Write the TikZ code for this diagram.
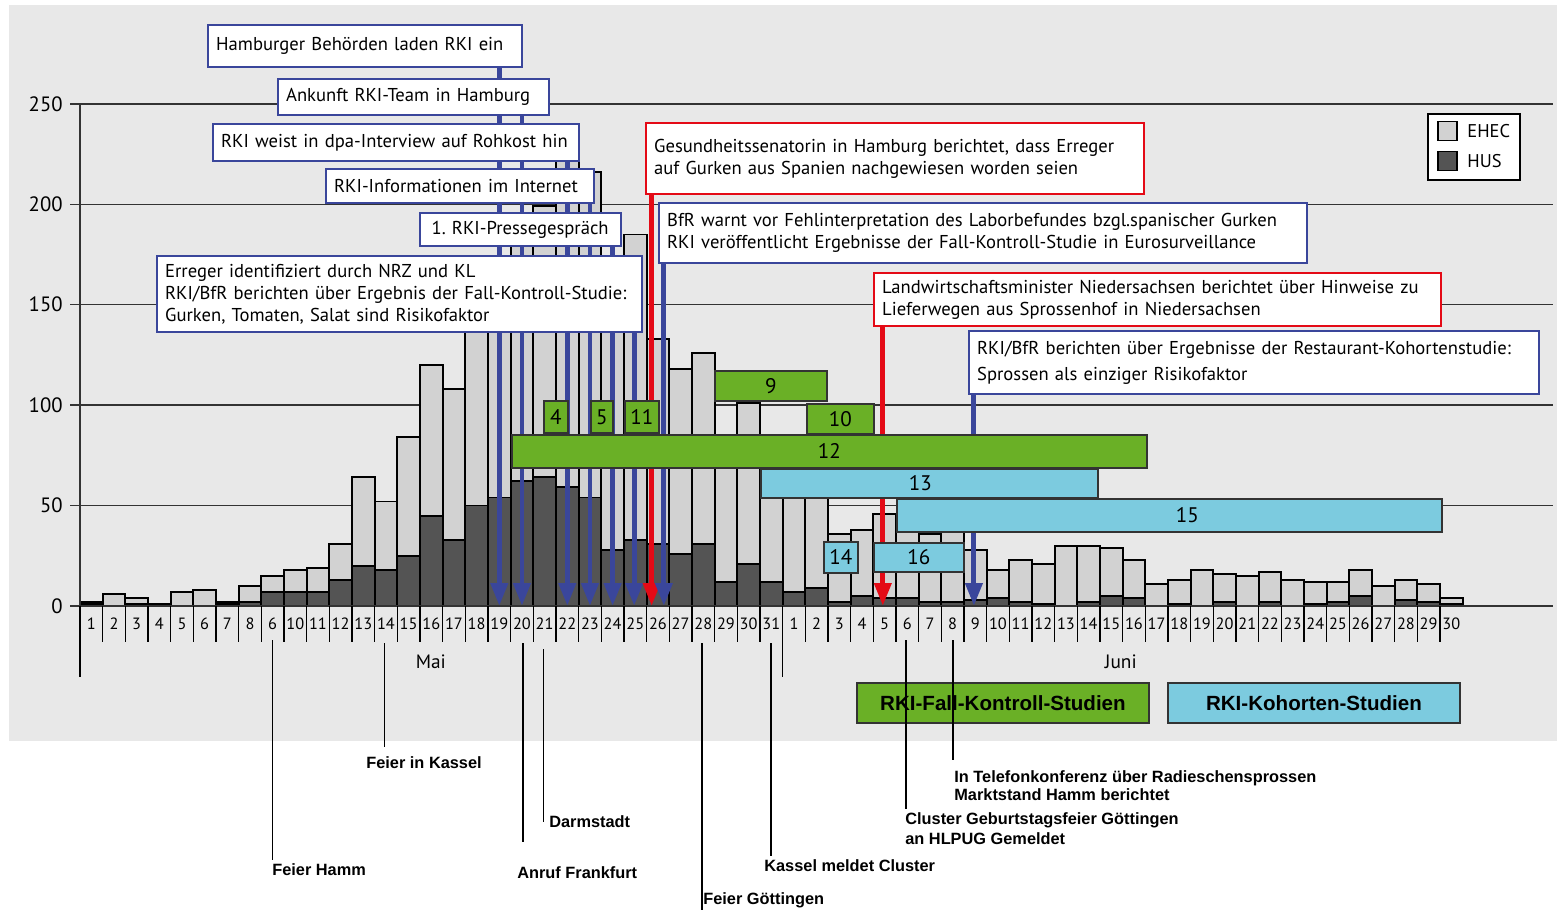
\documentclass[tikz,border=0pt]{standalone}
\usepackage{fontspec}
\setmainfont{PT Sans}
\newfontfamily\eventfont{Liberation Sans}
\usetikzlibrary{arrows.meta}
\frenchspacing

\definecolor{bggray}{RGB}{232,232,232}
\definecolor{ehecgray}{RGB}{210,210,210}
\definecolor{husgray}{RGB}{84,84,84}
\definecolor{rkiblue}{RGB}{58,70,155}
\definecolor{alertred}{RGB}{228,10,22}
\definecolor{fkgreen}{RGB}{106,176,38}
\definecolor{kocyan}{RGB}{124,203,223}

\pgfdeclarelayer{bars}
\pgfdeclarelayer{arrows}
\pgfsetlayers{bars,arrows,main}

\tikzset{
    ehec/.style={draw=black, line width=1.1pt, fill=ehecgray}, % light part of a day
    hus/.style={draw=black, line width=1.1pt, fill=husgray}, % dark part of a day
    gridline/.style={line width=0.8pt, draw=black!80},
    daytick/.style={line width=0.8pt},
    note/.style={draw=rkiblue, line width=1.4pt, fill=white, anchor=north west, align=left,
        inner xsep=4.5pt, inner ysep=0pt, font=\fontsize{10.6}{12.5}\selectfont}, % event box
    rednote/.style={note, draw=alertred},
    study/.style={draw=black!80, line width=1.1pt, anchor=north west, inner sep=0pt,
        font=\fontsize{12}{14}\selectfont}, % study period
    fk/.style={study, fill=fkgreen},
    ko/.style={study, fill=kocyan},
    bluearrow/.style={draw=rkiblue, line width=2.8pt, -{Triangle[width=9.5pt,length=13pt]}},
    redarrow/.style={bluearrow, draw=alertred},
    evline/.style={line width=0.7pt},
    event/.style={anchor=west, inner xsep=0pt, inner ysep=2pt, align=left,
        font=\eventfont\bfseries\fontsize{9.3}{11.3}\selectfont},
}

\begin{document}
\begin{tikzpicture}[
        x=0.02cm, y=-0.02cm,
        daylabel/.style={font=\fontsize{9.3}{10}\selectfont, inner sep=0pt},
        axislabel/.style={anchor=east, inner sep=0pt, font=\fontsize{11.8}{13}\selectfont},
    ]
    \useasboundingbox (0,0) rectangle (1557,909);
    \begin{pgfonlayer}{bars}
        \fill[bggray] (9,5) rectangle (1557,741);
    \end{pgfonlayer}

    % epidemic curve, one unit per day and per case
    \begin{scope}[shift={(1.6cm,-12.12cm)}, x=0.4534cm, y=0.04016cm]
        \begin{pgfonlayer}{bars}
            \foreach \v in {50,100,...,250}
                \draw[gridline] (-0.44,\v) -- (64.98,\v);
            \foreach \e/\h [count=\i] in {2/1,6/0,4/1,1/1,7/0,8/0,2/1,10/2,15/7,18/7,19/7,31/13,64/20,
                    52/18,84/25,120/45,108/33,155/50,165/54,190/62,199/64,230/59,216/54,170/28,185/33,
                    133/31,118/26,126/31,80/12,101/21,70/12,
                    65/7,60/9,36/2,38/5,46/4,45/4,36/2,38/2,28/3,18/4,23/2,21/1,30/0,30/2,29/5,23/4,
                    11/0,13/1,18/0,16/2,15/0,17/2,13/0,12/1,12/2,18/5,10/0,13/3,11/2,4/1}{
                \draw[ehec] (\i-1,0) rectangle (\i,\e);
                \draw[hus] (\i-1,0) rectangle (\i,\h);
            }
            \draw[gridline] (-0.44,0) -- (64.98,0);
            \draw[gridline] (0,250) -- (0,-35.4);
        \end{pgfonlayer}
        \foreach \v in {0,50,...,250}
            \node[axislabel] (y\v) at (-0.75,\v) {\v};
        \foreach \i in {0,...,60}
            \draw[daytick] (\i,0) -- (\i,-17.9);
        \draw[daytick] (0,0) -- (0,-35.4);
        \draw[daytick] (31,0) -- (31,-35.4);
        \foreach \d [count=\i] in {1,2,3,4,5,6,7,8,6,10,11,...,31}
            \node[daylabel] (may\i) at (\i-0.5,-8.96) {\d};
        \foreach \d in {1,...,30}
            \node[daylabel] (jun\d) at (30.5+\d,-8.96) {\d};
        \node[font=\fontsize{11}{13}\selectfont] (mai) at (15.48,-27.9) {Mai};
        \node[font=\fontsize{11}{13}\selectfont] (juni) at (45.92,-27.9) {Juni};
        % where the arrows hit the axis
        \coordinate (a19) at (18.5,0);
        \coordinate (a20) at (19.5,0);
        \coordinate (a22) at (21.5,0);
        \coordinate (a23) at (22.5,0);
        \coordinate (a24) at (23.5,0);
        \coordinate (a25) at (24.45,0);
        \coordinate (r26) at (25.22,0);
        \coordinate (b26) at (25.76,0);
        \coordinate (r35) at (35.42,0);
        \coordinate (b39) at (39.44,0);
    \end{scope}

    % study periods
    \node[fk, minimum width=0.48cm, minimum height=0.64cm] (s4) at (543,400) {4};
    \node[fk, minimum width=0.44cm, minimum height=0.64cm] (s5) at (590,400) {5};
    \node[fk, minimum width=0.68cm, minimum height=0.64cm] (s11) at (624,400) {11};
    \node[fk, minimum width=2.24cm, minimum height=0.6cm] (s9) at (714,370) {9};
    \node[fk, minimum width=1.34cm, minimum height=0.6cm] (s10) at (806,403) {10};
    \node[fk, minimum width=12.7cm, minimum height=0.66cm] (s12) at (511,434) {12};
    \node[ko, minimum width=6.74cm, minimum height=0.58cm] (s13) at (760,468) {13\hspace*{0.36cm}};
    \node[ko, minimum width=10.9cm, minimum height=0.66cm] (s15) at (896,498) {\hspace*{0.72cm}15};
    \node[ko, minimum width=0.68cm, minimum height=0.62cm] (s14) at (823,541) {14};
    \node[ko, minimum width=1.8cm, minimum height=0.58cm] (s16) at (873,542) {16};

    % events
    \node[note, text width=5.96cm, minimum height=0.84cm] (hamburg) at (207,24) {Hamburger Behörden laden RKI ein};
    \node[note, text width=5.10cm, minimum height=0.72cm] (ankunft) at (277,78) {Ankunft RKI-Team in Hamburg};
    \node[note, text width=7.00cm, minimum height=0.74cm] (rohkost) at (212,123) {RKI weist in dpa-Interview auf Rohkost hin};
    \node[note, text width=5.04cm, minimum height=0.68cm] (internet) at (325,168) {RKI-Informationen im Internet};
    \node[note, text width=3.70cm, minimum height=0.66cm] (presse) at (419,212) {\hspace*{2pt}1. RKI-Pressegespräch};
    \node[note, text width=9.38cm, minimum height=1.52cm] (erreger) at (156,255) {Erreger identifiziert durch NRZ und KL\\
        RKI/BfR berichten über Ergebnis der Fall-Kontroll-Studie:\\Gurken, Tomaten, Salat sind Risikofaktor};
    \node[rednote, text width=9.64cm, minimum height=1.42cm] (senatorin) at (645,122) {Gesundheitssenatorin in Hamburg berichtet, dass Erreger\\
        auf Gurken aus Spanien nachgewiesen worden seien};
    \node[note, text width=12.64cm, minimum height=1.2cm] (bfr) at (658,202) {BfR warnt vor Fehlinterpretation des Laborbefundes bzgl.spanischer Gurken\\
        RKI veröffentlicht Ergebnisse der Fall-Kontroll-Studie in Eurosurveillance};
    \node[rednote, text width=11.02cm, minimum height=1.06cm] (landwirt) at (873,272) {Landwirtschaftsminister Niedersachsen berichtet über Hinweise zu\\
        Lieferwegen aus Sprossenhof in Niedersachsen};
    \node[note, text width=11.08cm, minimum height=1.26cm] (restaurant) at (968,330) {RKI/BfR berichten über Ergebnisse der Restaurant-Kohortenstudie:\\[2pt]
        Sprossen als einziger Risikofaktor};

    \begin{pgfonlayer}{arrows}
        \draw[bluearrow] (hamburg.south -| a19) -- (a19);
        \draw[bluearrow] (ankunft.south -| a20) -- (a20);
        \draw[bluearrow] (rohkost.south -| a22) -- (a22);
        \draw[bluearrow] (internet.south -| a23) -- (a23);
        \draw[bluearrow] (presse.south -| a24) -- (a24);
        \draw[bluearrow] (erreger.south -| a25) -- (a25);
        \draw[redarrow] (senatorin.south -| r26) -- (r26);
        \draw[bluearrow] (bfr.south -| b26) -- (b26);
        \draw[redarrow] (landwirt.south -| r35) -- (r35);
        \draw[bluearrow] (restaurant.south -| b39) -- (b39);
    \end{pgfonlayer}

    % legend
    \node[draw, line width=1pt, fill=white, anchor=north west, minimum width=1.84cm, minimum height=1.32cm] (legend) at (1427,113) {};
    \node[draw, line width=1pt, fill=ehecgray, minimum size=0.38cm, inner sep=0pt] (sqehec) at (1447.5,131) {};
    \node[draw, line width=1pt, fill=husgray, minimum size=0.38cm, inner sep=0pt] (sqhus) at (1447.5,161) {};
    \node[anchor=west, inner sep=0pt, font=\fontsize{10.5}{12}\selectfont] (lehec) at (1467,131) {EHEC};
    \node[anchor=west, inner sep=0pt, font=\fontsize{10.5}{12}\selectfont] (lhus) at (1467,161) {HUS};
    \node[fk, minimum width=5.84cm, minimum height=0.8cm, font=\eventfont\bfseries\fontsize{11.7}{14}\selectfont] (fklegend) at (856,682) {RKI-Fall-Kontroll-Studien};
    \node[ko, minimum width=5.84cm, minimum height=0.8cm, font=\eventfont\bfseries\fontsize{11.7}{14}\selectfont] (kolegend) at (1167,682) {RKI-Kohorten-Studien};

    % outbreak events below the axis
    \node[event] (hamm) at (272,870) {Feier Hamm};
    \node[event] (kassel) at (366,763) {Feier in Kassel};
    \node[event] (frankfurt) at (517,873) {Anruf Frankfurt};
    \node[event] (darmstadt) at (549,822) {Darmstadt};
    \node[event] (goettingen) at (703,900) {Feier Göttingen};
    \node[event] (kasselcl) at (764,866) {Kassel meldet Cluster};
    \node[event, font=\eventfont\bfseries\fontsize{9.3}{11.3}\selectfont] (geburtstag) at (905,829) {Cluster Geburtstagsfeier Göttingen\\an HLPUG Gemeldet};
    \node[event, font=\eventfont\bfseries\fontsize{9.3}{10.3}\selectfont] (telefon) at (954,786) {In Telefonkonferenz über Radieschensprossen\\Marktstand Hamm berichtet};
    \coordinate (hammtop) at (272.6,640);
    \coordinate (kasseltop) at (384.6,643);
    \coordinate (frankfurttop) at (523,643);
    \coordinate (darmstadttop) at (543.3,649);
    \coordinate (goettingentop) at (702,643);
    \coordinate (kasselcltop) at (771,643);
    \coordinate (geburtstagtop) at (906,640);
    \coordinate (telefontop) at (953,640);
    \draw[evline] (hammtop) -- (hammtop |- hamm.north);
    \draw[evline, shorten >=0.13cm] (kasseltop) -- (kasseltop |- kassel.north);
    \draw[evline, shorten >=0.43cm] (frankfurttop) -- (frankfurttop |- frankfurt.north);
    \draw[evline] (darmstadttop) -- (darmstadttop |- darmstadt.west);
    \draw[evline] (goettingentop) -- (goettingentop |- goettingen.south);
    \draw[evline] (kasselcltop) -- (kasselcltop |- kasselcl.north);
    \draw[evline] (geburtstagtop) -- (geburtstagtop |- geburtstag.north);
    \draw[evline, shorten >=0.15cm] (telefontop) -- (telefontop |- telefon.north);
\end{tikzpicture}
\end{document}
